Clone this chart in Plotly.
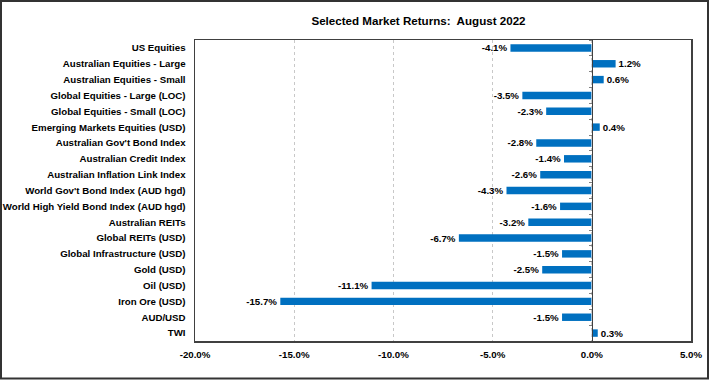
import plotly.graph_objects as go

categories = [
    "US Equities", "Australian Equities - Large", "Australian Equities - Small",
    "Global Equities - Large (LOC)", "Global Equities - Small (LOC)",
    "Emerging Markets Equities (USD)", "Australian Gov't Bond Index",
    "Australian Credit Index", "Australian Inflation Link Index",
    "World Gov't Bond Index (AUD hgd)", "World High Yield Bond Index (AUD hgd)",
    "Australian REITs", "Global REITs (USD)", "Global Infrastructure (USD)",
    "Gold (USD)", "Oil (USD)", "Iron Ore (USD)", "AUD/USD", "TWI",
]
returns = [-4.1, 1.2, 0.6, -3.5, -2.3, 0.4, -2.8, -1.4, -2.6, -4.3,
           -1.6, -3.2, -6.7, -1.5, -2.5, -11.1, -15.7, -1.5, 0.3]
x_ticks = [-20, -15, -10, -5, 0, 5]

FONT = "Liberation Sans, Arial, sans-serif"
BLUE = "#0070C0"
DARK = "#404040"

fig = go.Figure()
fig.add_trace(go.Bar(
    x=returns, y=categories, orientation="h",
    marker=dict(color=BLUE, line=dict(width=0)),
    texttemplate="%{x:.1f}%", textposition="outside", constraintext="none",
    textfont=dict(family=FONT, size=9.7, color="#000000", weight="bold"),
    cliponaxis=False, showlegend=False,
))
# invisible trace to drive the category tick marks on the zero line
fig.add_trace(go.Bar(
    x=[0] * len(categories), y=categories, orientation="h", yaxis="y2",
    marker=dict(color="rgba(0,0,0,0)"), showlegend=False, hoverinfo="skip",
))

fig.update_layout(
    width=710, height=380,
    margin=dict(l=195, r=19, t=40, b=39, autoexpand=False),
    paper_bgcolor="white", plot_bgcolor="white",
    bargap=0.53,
    font=dict(family=FONT, size=10, color="#000000"),
    title=dict(
        text="Selected Market Returns:\u00a0 August 2022",
        x=418.5 / 710, xref="container", xanchor="center",
        y=1 - 21 / 380, yref="container", yanchor="middle",
        font=dict(family=FONT, size=11.6, color="#000000", weight="bold"),
    ),
    xaxis=dict(
        range=[-20, 5], tickvals=x_ticks,
        ticktext=[f"{v:.1f}%" for v in x_ticks],
        tickfont=dict(family=FONT, size=9.7, weight="bold"),
        showgrid=True, gridcolor="#C8C8C8", griddash="dot", gridwidth=1,
        zeroline=False, showline=True, linecolor=DARK, linewidth=1.5,
        mirror=True, ticks="outside", ticklen=4, tickcolor="rgba(0,0,0,0)",
        fixedrange=True, automargin=False,
    ),
    yaxis=dict(
        autorange="reversed", type="category",
        categoryorder="array", categoryarray=categories,
        tickfont=dict(family=FONT, size=9.7, weight="bold"),
        showline=True, linecolor=DARK, linewidth=1.5, mirror=True,
        ticks="outside", ticklen=6, tickcolor="rgba(0,0,0,0)",
        showgrid=False, fixedrange=True, automargin=False,
    ),
    yaxis2=dict(
        overlaying="y", anchor="free", position=(0 - (-20)) / 25,
        side="left", autorange="reversed", type="category",
        categoryorder="array", categoryarray=categories,
        showticklabels=False, showline=True, linecolor=DARK, linewidth=1,
        ticks="outside", ticklen=3, tickcolor="#808080", tickson="boundaries",
        showgrid=False, fixedrange=True, automargin=False,
    ),
    shapes=[dict(
        type="rect", xref="paper", yref="paper",
        x0=(1 - 195) / 496, x1=(708 - 195) / 496,
        y0=(341 - 378.5) / 301, y1=(341 - 1) / 301,
        line=dict(color="#333333", width=2), fillcolor="rgba(0,0,0,0)",
        layer="above",
    )],
)

fig.write_html(
    "out.html",
    config={"displayModeBar": False, "staticPlot": True},
    post_script="document.body.style.margin='0';document.body.style.overflow='hidden';",
)
